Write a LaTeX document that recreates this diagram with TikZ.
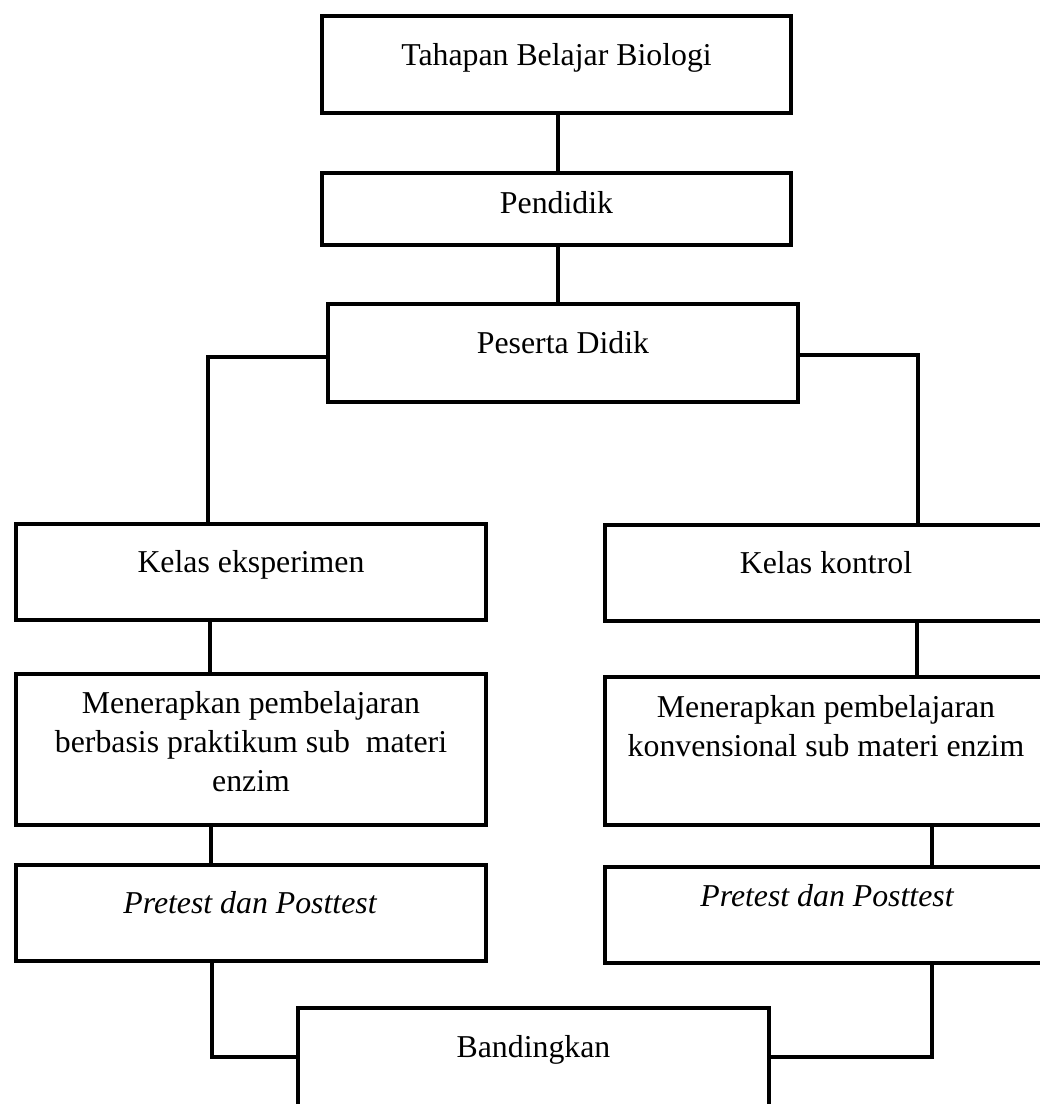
\documentclass[tikz,border=0pt]{standalone}
\usepackage{fontspec}
\setmainfont{Liberation Serif}
\begin{document}
\begin{tikzpicture}[x=1pt,y=-1pt,
  box/.style={draw=black, line width=4.5pt, fill=white, inner sep=0pt, outer sep=0pt},
  conn/.style={draw=black, line width=4pt},
  txt/.style={inner sep=0pt, font=\fontsize{31.8}{39}\selectfont, align=center}]
\clip (0,0) rectangle (1040,1104);
\useasboundingbox (0,0) rectangle (1040,1104);
\fill[white] (0,0) rectangle (1040,1104);

% boxes
\node[box, minimum width=469pt, minimum height=97pt] (b1) at (556.5,64.5) {};
\node[box, minimum width=469pt, minimum height=72pt] (b2) at (556.5,209) {};
\node[box, minimum width=470pt, minimum height=98pt] (b3) at (563,353) {};
\node[box, minimum width=470pt, minimum height=96pt] (k1) at (251,572) {};
\node[box, minimum width=442pt, minimum height=96pt] (k2) at (826,573) {};
\node[box, minimum width=470pt, minimum height=151pt] (m1) at (251,749.5) {};
\node[box, minimum width=442pt, minimum height=148pt] (m2) at (826,751) {};
\node[box, minimum width=470pt, minimum height=96pt] (p1) at (251,913) {};
\node[box, minimum width=442pt, minimum height=96pt] (p2) at (826,915) {};
\node[box, minimum width=471pt, minimum height=102pt] (bd) at (533.5,1059) {};

% texts
\node[txt, anchor=base] (t1) at (556.5,65) {Tahapan Belajar Biologi};
\node[txt, anchor=base] (t2) at (556.5,213) {Pendidik};
\node[txt, anchor=base] (t3) at (563,353) {Peserta Didik};
\node[txt, anchor=base] (tk1) at (251,572) {Kelas eksperimen};
\node[txt, anchor=base] (tk2) at (826,573) {Kelas kontrol};
\node[txt, anchor=north] (tm1) at (251,691.3) {Menerapkan pembelajaran\\berbasis praktikum sub\ \ materi\\enzim};
\node[txt, anchor=north] (tm2) at (826,695.3) {Menerapkan pembelajaran\\konvensional sub materi enzim};
\node[txt, anchor=base] (tp1) at (250,913) {\itshape Pretest dan Posttest};
\node[txt, anchor=base] (tp2) at (827,906) {\itshape Pretest dan Posttest};
\node[txt, anchor=base] (tbd) at (533.5,1057) {Bandingkan};

% connectors
\draw[conn] ([xshift=1.5pt]b1.south) -- ([xshift=1.5pt]b2.north);
\coordinate (c1) at ([xshift=1.5pt]b2.south);
\draw[conn] (c1) -- (c1 |- b3.north);
\draw[conn] ([yshift=-4pt]b3.west) -| ([xshift=-43pt]k1.north);
\draw[conn] ([yshift=-2pt]b3.east) -| ([xshift=92pt]k2.north);
\draw[conn] ([xshift=-41pt]k1.south) -- ([xshift=-41pt]m1.north);
\draw[conn] ([xshift=91pt]k2.south) -- ([xshift=91pt]m2.north);
\draw[conn] ([xshift=-40pt]m1.south) -- ([xshift=-40pt]p1.north);
\draw[conn] ([xshift=106pt]m2.south) -- ([xshift=106pt]p2.north);
\draw[conn] ([xshift=-39pt]p1.south) |- ([yshift=2pt]bd.west);
\draw[conn] ([xshift=106pt]p2.south) |- ([yshift=2pt]bd.east);
\end{tikzpicture}
\end{document}
